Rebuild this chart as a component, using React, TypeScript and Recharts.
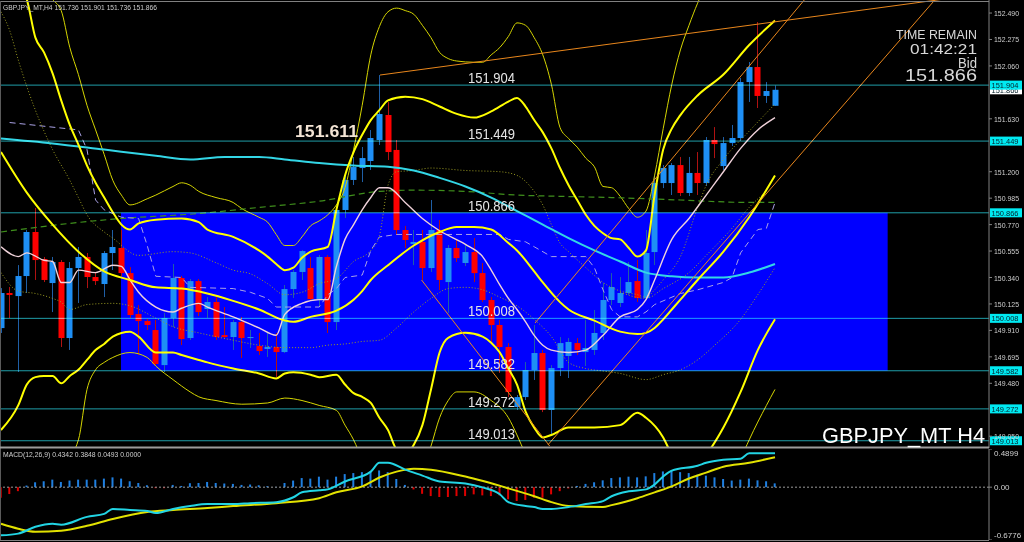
import React from "react";
import {
  Bar,
  Cell,
  ComposedChart,
  Line,
  ReferenceArea,
  ReferenceLine,
  XAxis,
  YAxis,
} from "recharts";

// ---- candles (H4 bars, index 0 = leftmost) ----
const OPEN = [
  149.929, 150.214, 150.189, 150.352, 150.71, 150.49, 150.295, 150.466, 149.848, 150.417,
  150.507, 150.344, 150.287, 150.539, 150.58, 150.376, 150.043, 149.986, 149.913, 149.628,
  150.011, 150.336, 149.848, 150.311, 150.084, 150.141, 149.872, 149.856, 149.978, 149.848,
  149.783, 149.759, 149.775, 149.734, 150.246, 150.385, 150.417, 150.165, 150.507, 149.978,
  150.889, 151.133, 151.23, 151.287, 151.458, 151.661, 151.377, 150.726, 150.612, 150.629,
  150.417, 150.726, 150.303, 150.58, 150.458, 150.547, 150.376, 150.157, 149.954, 149.775,
  149.287, 149.368, 149.588, 149.726, 149.263, 149.604, 149.702, 149.807, 149.734, 149.751,
  149.889, 150.157, 150.133, 150.214, 150.311, 150.173, 150.547, 151.108, 151.108, 151.254,
  151.027, 151.19, 151.108, 151.458, 151.246, 151.433, 151.474, 151.929, 152.051, 151.816,
  151.736,
];
const HIGH = [
  150.254, 150.263, 150.441, 150.726, 150.905, 150.507, 150.507, 150.482, 150.466, 150.588,
  150.539, 150.385, 150.555, 150.726, 150.726, 150.425, 150.116, 150.002, 149.994, 150.051,
  150.45, 150.352, 150.328, 150.328, 150.181, 150.181, 150.1, 149.994, 150.019, 149.913,
  149.889, 149.897, 149.889, 150.279, 150.401, 150.564, 150.507, 150.523, 150.523, 150.905,
  151.19, 151.32, 151.401, 151.539, 151.986, 151.767, 151.458, 150.759, 150.726, 150.726,
  150.97, 150.807, 150.604, 150.645, 150.604, 150.661, 150.458, 150.181, 149.994, 149.807,
  149.385, 149.653, 149.954, 149.751, 149.628, 149.856, 149.848, 149.848, 149.994, 150.076,
  150.295, 150.376, 150.344, 150.466, 150.482, 150.726, 151.173, 151.254, 151.271, 151.32,
  151.32, 151.36, 151.482, 151.563, 151.482, 151.58, 151.962, 152.092, 152.417, 151.929,
  151.901,
];
const LOW = [
  149.889, 150.011, 149.572, 150.214, 150.32, 150.303, 150.059, 149.775, 149.751, 150.133,
  150.254, 150.279, 150.181, 150.401, 150.352, 150.011, 149.71, 149.913, 149.62, 149.572,
  149.937, 149.791, 149.832, 150.027, 150.011, 149.832, 149.848, 149.751, 149.685, 149.767,
  149.71, 149.694, 149.531, 149.726, 150.173, 150.32, 150.157, 150.1, 149.889, 149.913,
  150.824, 151.092, 151.116, 151.214, 151.417, 151.295, 150.685, 150.58, 150.441, 150.32,
  150.385, 150.238, 150.051, 150.466, 150.433, 150.303, 150.141, 149.816, 149.564, 149.368,
  149.263, 149.344, 149.507, 149.246, 149.059, 149.539, 149.523, 149.71, 149.62, 149.71,
  149.832, 150.116, 150.1, 150.198, 150.141, 150.157, 150.441, 151.067, 151.011, 151.002,
  151.002, 151.011, 151.084, 151.311, 151.214, 151.409, 151.45, 151.767, 151.718, 151.759,
  151.736,
];
const CLOSE = [
  150.214, 150.198, 150.352, 150.71, 150.482, 150.32, 150.466, 149.848, 150.417, 150.507,
  150.344, 150.311, 150.539, 150.588, 150.376, 150.035, 149.986, 149.954, 149.637, 150.011,
  150.336, 149.84, 150.311, 150.059, 150.141, 149.856, 149.856, 149.978, 149.848, 149.856,
  149.742, 149.775, 149.734, 150.246, 150.385, 150.555, 150.165, 150.507, 149.978, 150.889,
  151.133, 151.238, 151.311, 151.474, 151.669, 151.36, 150.726, 150.645, 150.629, 150.417,
  150.726, 150.32, 150.58, 150.498, 150.547, 150.376, 150.157, 149.954, 149.775, 149.409,
  149.368, 149.588, 149.726, 149.263, 149.604, 149.807, 149.816, 149.751, 149.767, 149.889,
  150.157, 150.263, 150.214, 150.303, 150.173, 150.539, 151.108, 151.23, 151.254, 151.027,
  151.19, 151.108, 151.458, 151.425, 151.433, 151.474, 151.929, 152.051, 151.816, 151.856,
  151.866,
];

// ---- indicator lines, [bar index, price] ----
const BB_MID = [
  [0, 151.36], [3, 151.03], [6, 150.77], [9, 150.55], [12, 150.39], [15, 150.32], [18, 150.26],
  [21, 150.25], [24, 150.21], [27, 150.15], [30, 150.08], [33, 149.99], [34, 149.98], [36, 150.02],
  [39, 150.07], [41, 150.16], [42, 150.23], [43, 150.32], [45, 150.44], [48, 150.6], [51, 150.71],
  [53, 150.75], [55, 150.75], [57, 150.73], [59, 150.62], [60, 150.56], [62, 150.39], [63, 150.3],
  [65, 150.14], [66, 150.08], [69, 149.99], [72, 149.9], [74, 149.88], [75, 149.89], [76, 149.93],
  [77, 150.0], [78, 150.08], [79, 150.16], [81, 150.32], [84, 150.55], [87, 150.83], [90, 151.17],
];
const BB_UP2 = [
  [0, 152.92], [3, 152.6], [4, 152.29], [5, 152.17], [6, 152.0], [7, 151.78], [8, 151.58],
  [9, 151.42], [10, 151.25], [11, 151.11], [12, 150.99], [13, 150.87], [14, 150.77], [15, 150.73],
  [16, 150.78], [18, 150.81], [21, 150.82], [23, 150.79], [24, 150.73], [27, 150.67], [30, 150.56],
  [31, 150.51], [32, 150.45], [33, 150.4], [34, 150.42], [35, 150.5], [36, 150.55], [38, 150.59],
  [39, 150.89], [40, 151.17], [41, 151.36], [42, 151.5], [43, 151.62], [44, 151.7], [45, 151.78],
  [47, 151.81], [49, 151.79], [51, 151.73], [53, 151.67], [55, 151.64], [57, 151.69], [59, 151.77],
  [60, 151.8], [61, 151.73], [62, 151.62], [63, 151.52], [64, 151.39], [65, 151.23], [66, 151.09],
  [67, 150.97], [68, 150.85], [69, 150.76], [70, 150.7], [71, 150.66], [72, 150.65], [73, 150.58],
  [74, 150.51], [75, 150.56], [76, 151.01], [77, 151.38], [78, 151.55], [79, 151.66], [81, 151.82],
  [84, 151.99], [87, 152.23], [90, 152.43],
];
const BB_LO2 = [
  [0, 149.1], [2, 149.3], [3, 149.47], [4, 149.53], [5, 149.54], [6, 149.54], [7, 149.48],
  [8, 149.54], [9, 149.59], [10, 149.67], [11, 149.75], [12, 149.8], [13, 149.86], [15, 149.9],
  [16, 149.86], [18, 149.73], [20, 149.73], [21, 149.71], [23, 149.67], [24, 149.65], [27, 149.6],
  [30, 149.56], [32, 149.52], [33, 149.56], [34, 149.57], [36, 149.55], [37, 149.53], [39, 149.55],
  [40, 149.47], [41, 149.4], [42, 149.37], [43, 149.32], [44, 149.2], [45, 149.1], [46, 148.94],
  [47, 148.9], [48, 148.98], [49, 149.14], [50, 149.43], [51, 149.73], [52, 149.85], [54, 149.89],
  [56, 149.86], [57, 149.81], [58, 149.73], [59, 149.6], [60, 149.47], [61, 149.25], [62, 149.12],
  [63, 149.04], [64, 149.06], [66, 149.12], [69, 149.12], [72, 149.14], [74, 149.24], [75, 149.2],
  [77, 149.04], [78, 148.9], [80, 148.77], [82, 148.9], [84, 149.12], [86, 149.41], [88, 149.75],
  [90, 150.0],
];
const BB_UP3 = [
  [0, 153.08], [3, 152.88], [5, 152.69], [6, 152.6], [7, 152.51], [8, 152.21], [9, 151.99],
  [10, 151.74], [11, 151.54], [12, 151.34], [13, 151.13], [14, 151.01], [15, 150.93], [17, 150.98],
  [18, 151.01], [20, 151.08], [21, 151.11], [22, 151.09], [23, 151.04], [25, 150.99], [27, 150.95],
  [28, 150.9], [30, 150.83], [31, 150.79], [32, 150.69], [33, 150.6], [34, 150.6], [35, 150.67],
  [36, 150.76], [37, 150.8], [38, 150.85], [39, 150.93], [40, 151.07], [41, 151.38], [42, 151.74],
  [43, 152.15], [44, 152.38], [45, 152.5], [46, 152.53], [47, 152.51], [48, 152.48], [49, 152.39],
  [50, 152.29], [51, 152.17], [52, 152.12], [53, 152.1], [55, 152.09], [56, 152.09], [57, 152.15],
  [58, 152.21], [59, 152.3], [60, 152.41], [61, 152.39], [62, 152.29], [63, 152.15], [64, 151.91],
  [65, 151.56], [66, 151.47], [67, 151.4], [68, 151.31], [69, 151.24], [70, 151.08], [71, 151.07],
  [72, 151.0], [73, 150.9], [74, 150.83], [75, 150.88], [76, 151.17], [77, 151.55], [78, 151.91],
  [79, 152.19], [80, 152.39], [81, 152.57], [82, 152.72], [84, 152.92], [87, 153.17], [90, 153.33],
];
const BB_LO3 = [
  [0, 148.37], [6, 148.69], [9, 149.02], [10, 149.43], [11, 149.59], [12, 149.65], [13, 149.69],
  [15, 149.73], [17, 149.69], [18, 149.62], [20, 149.51], [22, 149.41], [23, 149.37], [25, 149.34],
  [28, 149.31], [31, 149.32], [33, 149.36], [35, 149.34], [37, 149.3], [39, 149.26], [40, 149.14],
  [41, 149.02], [42, 148.86], [44, 148.53], [47, 148.37], [49, 148.77], [50, 148.97], [51, 149.2],
  [52, 149.34], [53, 149.41], [55, 149.41], [57, 149.34], [59, 149.2], [60, 149.06], [61, 148.9],
  [63, 148.61], [70, 148.53], [75, 148.37], [80, 148.04], [84, 148.37], [86, 148.86], [87, 149.02],
  [89, 149.3], [90, 149.43],
];
const BB_UP1 = [
  [0, 152.5], [1, 152.35], [2, 152.11], [4, 151.7], [6, 151.38], [8, 151.13], [9, 150.99],
  [10, 150.85], [12, 150.71], [13, 150.66], [16, 150.52], [20, 150.55], [22, 150.54], [25, 150.46],
  [27, 150.4], [29, 150.37], [31, 150.29], [33, 150.2], [35, 150.22], [37, 150.29], [39, 150.33],
  [41, 150.47], [43, 150.56], [44, 150.68], [45, 151.09], [46, 151.2], [48, 151.21], [50, 151.23],
  [54, 151.21], [58, 151.2], [60, 151.17], [62, 151.04], [63, 150.93], [64, 150.77], [65, 150.62],
  [66, 150.55], [68, 150.42], [70, 150.3], [72, 150.23], [74, 150.2], [75, 150.18], [76, 150.24],
  [77, 150.32], [79, 150.51], [81, 150.91], [82, 151.09], [84, 151.3], [87, 151.53], [90, 151.75],
];
const BB_LO1 = [
  [0, 150.38], [2, 150.23], [4, 150.21], [6, 150.17], [7, 150.14], [8, 150.08], [10, 150.12],
  [13, 150.13], [15, 150.11], [18, 150.01], [20, 149.94], [23, 149.89], [27, 149.83], [30, 149.79],
  [33, 149.77], [36, 149.77], [38, 149.79], [40, 149.8], [42, 149.82], [44, 149.83], [46, 149.93],
  [48, 150.06], [50, 150.17], [52, 150.25], [54, 150.26], [56, 150.24], [58, 150.18], [60, 150.11],
  [62, 150.0], [64, 149.86], [66, 149.65], [68, 149.6], [70, 149.58], [72, 149.56], [75, 149.51],
  [77, 149.55], [79, 149.59], [81, 149.67], [83, 149.79], [86, 150.0], [88, 150.2], [90, 150.42],
];
const DOT_MA = [
  [72, 150.22], [75, 150.17], [77, 150.25], [80, 150.38], [82, 150.52], [85, 150.74], [87, 150.91],
  [89, 151.04],
];
const CYAN_MA = [
  [0, 151.47], [6, 151.43], [12, 151.38], [18, 151.33], [22, 151.3], [26, 151.32], [30, 151.32],
  [33, 151.3], [37, 151.27], [41, 151.25], [45, 151.24], [48, 151.21], [51, 151.15], [54, 151.08],
  [57, 150.99], [60, 150.88], [63, 150.77], [66, 150.66], [69, 150.56], [72, 150.47], [75, 150.38],
  [78, 150.35], [81, 150.34], [84, 150.34], [87, 150.38], [90, 150.45],
];
const PINK_MA = [
  [0, 150.59], [2, 150.51], [3, 150.54], [5, 150.48], [6, 150.47], [7, 150.3], [8, 150.3],
  [9, 150.4], [11, 150.38], [13, 150.44], [14, 150.43], [15, 150.32], [16, 150.22], [18, 150.1],
  [20, 150.06], [21, 150.09], [23, 150.13], [24, 150.1], [27, 150.02], [30, 149.93], [32, 149.87],
  [33, 150.04], [35, 150.13], [37, 150.16], [38, 150.16], [39, 150.43], [40, 150.65], [41, 150.77],
  [42, 150.89], [43, 150.99], [44, 151.07], [45, 151.07], [47, 150.95], [49, 150.82], [51, 150.72],
  [54, 150.61], [56, 150.51], [57, 150.4], [58, 150.28], [59, 150.17], [60, 150.08], [61, 149.98],
  [62, 149.87], [63, 149.79], [64, 149.75], [66, 149.73], [68, 149.75], [70, 149.87], [72, 150.02],
  [74, 150.08], [75, 150.16], [76, 150.32], [78, 150.65], [80, 150.82], [82, 151.01], [84, 151.2],
  [86, 151.39], [88, 151.54], [90, 151.64],
];
const GREEN_MA = [
  [0, 150.71], [8, 150.78], [14, 150.82], [23, 150.86], [30, 150.91], [37, 150.96], [44, 151.04],
  [48, 151.05], [54, 151.04], [60, 151.01], [65, 151.0], [71, 150.99], [79, 150.97], [87, 150.95],
  [90, 150.95],
];
const LAVENDER_MA = [
  [1, 151.6], [5, 151.57], [9, 151.54], [10, 151.38], [11, 150.97], [12, 150.89], [14, 150.83],
  [16, 150.82], [17, 150.6], [18, 150.35], [21, 150.34], [22, 150.26], [27, 150.25], [29, 150.22],
  [31, 150.17], [32, 150.1], [37, 150.1], [38, 150.2], [39, 150.25], [40, 150.34], [42, 150.36],
  [43, 150.56], [44, 150.67], [46, 150.69], [58, 150.69], [59, 150.65], [61, 150.63], [62, 150.59],
  [64, 150.51], [68, 150.51], [69, 150.42], [70, 150.24], [71, 150.08], [72, 150.02], [74, 150.02],
  [75, 150.06], [76, 150.12], [79, 150.21], [81, 150.24], [84, 150.3], [85, 150.34], [86, 150.54],
  [88, 150.73], [89, 150.74], [90, 150.95],
];

// ---- MACD(12,26,9) ----
const MACD_MAIN = [
  [0, -0.618], [2, -0.596], [4, -0.508], [6, -0.47], [7, -0.482], [10, -0.381], [12, -0.343],
  [13, -0.28], [15, -0.293], [17, -0.306], [18, -0.331], [20, -0.28], [22, -0.242], [24, -0.217],
  [27, -0.217], [29, -0.205], [32, -0.192], [34, -0.129], [35, -0.066], [37, -0.04], [38, -0.028],
  [40, 0.073], [43, 0.2], [44, 0.313], [45, 0.313], [47, 0.225], [49, 0.149], [51, 0.073],
  [54, 0.048], [56, -0.003], [58, -0.091], [59, -0.192], [61, -0.242], [62, -0.255], [63, -0.28],
  [64, -0.28], [66, -0.255], [68, -0.217], [70, -0.179], [71, -0.116], [73, -0.053], [75, -0.028],
  [76, 0.035], [77, 0.137], [78, 0.212], [81, 0.275], [82, 0.313], [84, 0.351], [86, 0.364],
  [87, 0.434], [90, 0.434],
];
const MACD_SIGNAL = [
  [0, -0.47], [2, -0.533], [4, -0.571], [7, -0.558], [10, -0.495], [13, -0.407], [17, -0.318],
  [20, -0.293], [24, -0.268], [27, -0.242], [32, -0.205], [37, -0.141], [39, -0.066], [42, 0.01],
  [44, 0.124], [46, 0.2], [48, 0.237], [50, 0.225], [54, 0.136], [59, -0.015], [62, -0.116],
  [64, -0.192], [66, -0.242], [70, -0.255], [71, -0.23], [74, -0.141], [76, -0.066], [78, 0.01],
  [80, 0.111], [82, 0.187], [84, 0.263], [87, 0.313], [90, 0.385],
];
const MACD_HIST = [
  -0.135, -0.088, -0.051, 0.021, 0.063, 0.076, 0.097, 0.067, 0.085, 0.097,
  0.097, 0.097, 0.11, 0.126, 0.11, 0.076, 0.054, 0.025, -0.013, -0.013,
  0.029, 0.016, 0.051, 0.054, 0.067, 0.054, 0.047, 0.042, 0.029, 0.034,
  0.025, 0.013, 0.004, 0.054, 0.085, 0.117, 0.11, 0.135, 0.097, 0.135,
  0.168, 0.181, 0.193, 0.202, 0.215, 0.193, 0.105, 0.029, -0.029, -0.085,
  -0.114, -0.126, -0.126, -0.114, -0.114, -0.092, -0.105, -0.114, -0.105, -0.155,
  -0.177, -0.164, -0.135, -0.135, -0.092, -0.051, -0.016, 0.016, 0.042, 0.063,
  0.088, 0.117, 0.126, 0.135, 0.126, 0.139, 0.181, 0.202, 0.215, 0.193,
  0.181, 0.16, 0.148, 0.126, 0.105, 0.085, 0.097, 0.11, 0.088, 0.076,
  0.049,
];

// ---- levels, zone, trend lines, axis ticks ----
const LEVELS = ["151.904", "151.449", "150.866", "150.008", "149.582", "149.272", "149.013"];
const BID = "151.866";
const ZONE_BARS = [13.95, 103.1];
const ZONE_PRICES = [149.582, 150.866];
const TRENDLINES = [
  [[44.07, 151.986], [114.9, 152.653]],
  [[48.9, 150.32], [63.8, 148.97]],
  [[62.1, 149.97], [95, 152.73]],
  [[63.6, 148.98], [110, 152.71]],
];
const PRICE_TICKS = [
  152.49, 152.275, 152.06, 151.63, 151.2, 150.985, 150.77, 150.555, 150.34, 150.125, 149.91,
  149.695, 149.48, 149.05,
];
const MACD_TICKS = [0.4899, 0, -0.6776];

const FONT = "'Liberation Sans', Arial, sans-serif";
const AXIS = "#808080";
const X_DOMAIN = [-0.116, 114.884];
const PRICE_DOMAIN = [148.954, 152.596];
const MACD_DOMAIN = [-0.6776, 0.4899];
const TEXT_X = 468;

const candles = OPEN.map((open, i) => ({
  x: i,
  open,
  close: CLOSE[i],
  high: HIGH[i],
  low: LOW[i],
  range: [LOW[i], HIGH[i]],
}));
const macdRows = MACD_HIST.map((hist, i) => ({ x: i, hist }));
const toPoints = (pts: number[][]) => pts.map(([x, y]) => ({ x, y }));

const SERIES = [
  { key: "up3", pts: BB_UP3, stroke: "#d6d600", width: 1 },
  { key: "lo3", pts: BB_LO3, stroke: "#d6d600", width: 1 },
  { key: "green", pts: GREEN_MA, stroke: "#3f8f1c", width: 1.2, dash: "6 4" },
  { key: "lav", pts: LAVENDER_MA, stroke: "#aaa2e6", width: 1, dash: "6 4", linear: true },
  { key: "up1", pts: BB_UP1, stroke: "#9c9c22", width: 1, dash: "1 2" },
  { key: "lo1", pts: BB_LO1, stroke: "#9c9c22", width: 1, dash: "1 2" },
  { key: "dot", pts: DOT_MA, stroke: "#9c9c22", width: 1, dash: "1 2" },
  { key: "cyan", pts: CYAN_MA, stroke: "#33d6e6", width: 2 },
  { key: "pink", pts: PINK_MA, stroke: "#f0d2da", width: 1.4 },
  { key: "mid", pts: BB_MID, stroke: "#ffff00", width: 2 },
  { key: "up2", pts: BB_UP2, stroke: "#ffff00", width: 2 },
  { key: "lo2", pts: BB_LO2, stroke: "#ffff00", width: 2 },
];

function Candle(props: any) {
  const { x, y, width, height, payload } = props;
  if (x == null || y == null || !payload) return null;
  const { open, close, high, low } = payload;
  const top = Math.min(y, y + height);
  const h = Math.abs(height);
  const span = high - low || 1;
  const at = (v: number) => top + ((high - v) / span) * h;
  const up = close >= open;
  const bodyTop = at(Math.max(open, close));
  const bodyBottom = at(Math.min(open, close));
  const c = Math.round(x + width / 2);
  return (
    <g>
      <line x1={c + 0.5} x2={c + 0.5} y1={top} y2={top + h} stroke={up ? "#1f5fa6" : "#b01212"} />
      <rect
        x={c - 2.5}
        y={bodyTop}
        width={6}
        height={Math.max(1, bodyBottom - bodyTop)}
        fill={up ? "#1e8ff5" : "#ff0000"}
      />
    </g>
  );
}

function LevelLabel(props: any) {
  const { viewBox, text, inside = true, box = "#00eaf2" } = props;
  if (!viewBox) return null;
  const right = viewBox.x + viewBox.width;
  const y = viewBox.y;
  return (
    <g>
      {inside && (
        <text
          x={TEXT_X}
          y={y - 2}
          fill="#e4e4e4"
          fontSize={14}
          fontFamily={FONT}
          textLength={47}
          lengthAdjust="spacingAndGlyphs"
        >
          {text}
        </text>
      )}
      <rect x={right + 1} y={y - 4.5} width={32} height={9} fill={box} />
      <text
        x={right + 2.5}
        y={y + 3}
        fill="#06202a"
        fontSize={8}
        fontFamily={FONT}
        textLength={27}
        lengthAdjust="spacingAndGlyphs"
      >
        {text}
      </text>
    </g>
  );
}

function PriceTick(props: any) {
  const { x, y, payload } = props;
  return (
    <text
      x={x}
      y={y}
      dy={3}
      fill="#cfcfcf"
      fontSize={8}
      fontFamily={FONT}
      textLength={25}
      lengthAdjust="spacingAndGlyphs"
    >
      {Number(payload.value).toFixed(3)}
    </text>
  );
}

function MacdTick(props: any) {
  const { x, y, payload } = props;
  const v = Number(payload.value);
  const dy = v > 0.1 ? 7 : v < -0.1 ? -2 : 3;
  const label = v === 0 ? "0.00" : v.toFixed(4);
  return (
    <text x={x} y={y} dy={dy} fill="#cfcfcf" fontSize={8} fontFamily={FONT}>
      {label}
    </text>
  );
}

export default function App() {
  return (
    <div style={{ position: "absolute", left: 0, top: 0, width: 1024, height: 542, background: "#000", overflow: "hidden" }}>
      <div style={{ position: "absolute", left: 0, top: 0 }}>
        <ComposedChart width={1024} height={448} data={candles} margin={{ top: 0, right: 0, bottom: 0, left: 0 }}>
          <XAxis dataKey="x" type="number" domain={X_DOMAIN} allowDataOverflow hide />
          <YAxis
            orientation="right"
            width={35}
            domain={PRICE_DOMAIN}
            ticks={PRICE_TICKS}
            interval={0}
            allowDataOverflow
            tickSize={3}
            axisLine={{ stroke: AXIS }}
            tickLine={{ stroke: AXIS }}
            tick={<PriceTick />}
          />
          <ReferenceArea
            x1={ZONE_BARS[0]}
            x2={ZONE_BARS[1]}
            y1={ZONE_PRICES[0]}
            y2={ZONE_PRICES[1]}
            fill="#0000ff"
            fillOpacity={1}
            stroke="none"
          />
          <Bar dataKey="range" barSize={6} isAnimationActive={false} shape={(p: any) => <Candle {...p} />} />
          {SERIES.map((s) => (
            <Line
              key={s.key}
              data={toPoints(s.pts)}
              dataKey="y"
              type={s.linear ? "linear" : "monotone"}
              stroke={s.stroke}
              strokeWidth={s.width}
              strokeDasharray={s.dash}
              dot={false}
              activeDot={false}
              isAnimationActive={false}
            />
          ))}
          {TRENDLINES.map((t, i) => (
            <ReferenceLine
              key={`t${i}`}
              segment={[{ x: t[0][0], y: t[0][1] }, { x: t[1][0], y: t[1][1] }]}
              stroke="#e8861c"
              strokeWidth={1}
              ifOverflow="hidden"
            />
          ))}
          <ReferenceLine
            y={Number(BID)}
            stroke="none"
            label={<LevelLabel text={BID} inside={false} box="#ffffff" />}
          />
          {LEVELS.map((lv) => (
            <ReferenceLine
              key={lv}
              y={Number(lv)}
              stroke="#1f9ea8"
              strokeWidth={1}
              style={{ mixBlendMode: "screen" }}
              label={<LevelLabel text={lv} />}
            />
          ))}
        </ComposedChart>
      </div>

      <div style={{ position: "absolute", left: 0, top: 449 }}>
        <ComposedChart width={1024} height={91} data={macdRows} margin={{ top: 0, right: 0, bottom: 0, left: 0 }}>
          <XAxis dataKey="x" type="number" domain={X_DOMAIN} allowDataOverflow hide />
          <YAxis
            orientation="right"
            width={35}
            domain={MACD_DOMAIN}
            ticks={MACD_TICKS}
            interval={0}
            allowDataOverflow
            tickSize={3}
            axisLine={{ stroke: AXIS }}
            tickLine={{ stroke: AXIS }}
            tick={<MacdTick />}
          />
          <ReferenceLine y={0} stroke="#9a9a9a" strokeDasharray="2 2" />
          <Bar dataKey="hist" barSize={2} isAnimationActive={false}>
            {macdRows.map((r) => (
              <Cell key={r.x} fill={r.hist >= 0 ? "#1f7fe0" : "#dd0000"} />
            ))}
          </Bar>
          <Line
            data={toPoints(MACD_SIGNAL)}
            dataKey="y"
            type="monotone"
            stroke="#e2e200"
            strokeWidth={2}
            dot={false}
            activeDot={false}
            isAnimationActive={false}
          />
          <Line
            data={toPoints(MACD_MAIN)}
            dataKey="y"
            type="monotone"
            stroke="#22d4e4"
            strokeWidth={2}
            dot={false}
            activeDot={false}
            isAnimationActive={false}
          />
        </ComposedChart>
      </div>

      <svg
        width={1024}
        height={542}
        style={{ position: "absolute", left: 0, top: 0, pointerEvents: "none" }}
        fontFamily={FONT}
      >
        <line x1={0} x2={989} y1={1.5} y2={1.5} stroke={AXIS} />
        <line x1={0.5} x2={0.5} y1={1} y2={541} stroke="#5a5a5a" />
        <rect x={0} y={446.5} width={989} height={2} fill="#9c9c9c" />
        <line x1={0} x2={989} y1={540.5} y2={540.5} stroke={AXIS} />
        <text x={3} y={9.5} fill="#cfcfcf" fontSize={8} textLength={154} lengthAdjust="spacingAndGlyphs">
          GBPJPY_MT,H4 151.736 151.901 151.736 151.866
        </text>
        <text x={3} y={457} fill="#cfcfcf" fontSize={8} textLength={138} lengthAdjust="spacingAndGlyphs">
          MACD(12,26,9) 0.4342 0.3848 0.0493 0.0000
        </text>
        <text x={295} y={137} fill="#f3e4d4" fontSize={17} fontWeight="bold" textLength={63} lengthAdjust="spacingAndGlyphs">
          151.611
        </text>
        <text x={896} y={39} fill="#d8d8d8" fontSize={13} textLength={81} lengthAdjust="spacingAndGlyphs">
          TIME REMAIN
        </text>
        <text x={910} y={54} fill="#d8d8d8" fontSize={15} textLength={67} lengthAdjust="spacingAndGlyphs">
          01:42:21
        </text>
        <text x={958} y={68} fill="#d8d8d8" fontSize={15} textLength={19} lengthAdjust="spacingAndGlyphs">
          Bid
        </text>
        <text x={905} y={81} fill="#d8d8d8" fontSize={16} textLength={72} lengthAdjust="spacingAndGlyphs">
          151.866
        </text>
        <text x={822} y={443} fill="#ffffff" fontSize={22} textLength={163} lengthAdjust="spacingAndGlyphs">
          GBPJPY_MT H4
        </text>
      </svg>
    </div>
  );
}
